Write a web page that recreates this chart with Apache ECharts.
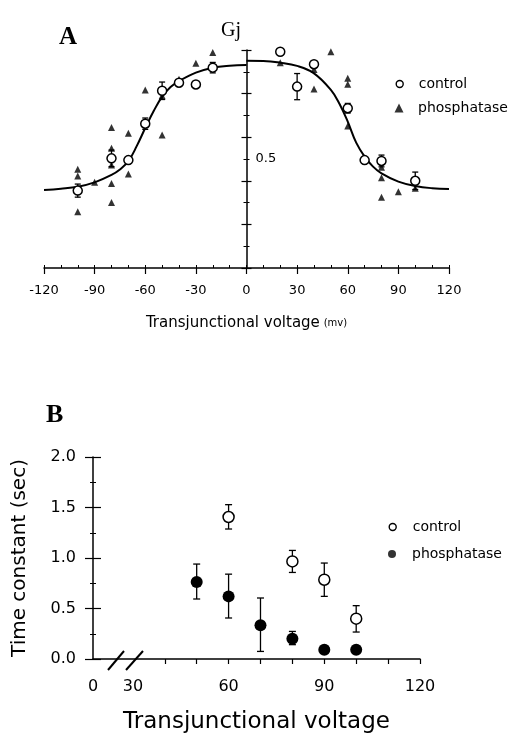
<!DOCTYPE html>
<html>
<head>
<meta charset="utf-8">
<script src="https://cdn.jsdelivr.net/npm/echarts@6/dist/echarts.min.js"></script>
<style>
  html, body { margin: 0; padding: 0; background: #fff; }
  #chart { width: 515px; height: 738px; }
</style>
</head>
<body>
<div id="chart"></div>
<script>
// ---- panel A : Gj vs transjunctional voltage ----
const ctrlVA = [-100, -80, -70, -60, -50, -40, -30, -20, 20, 30, 40, 60, 70, 80, 100]
const ctrlGA = [0.355, 0.503, 0.495, 0.662, 0.813, 0.85, 0.842, 0.919, 0.992, 0.832, 0.935, 0.733, 0.495, 0.491, 0.40]
const ctrlErrA = [0.03, 0.038, 0, 0.026, 0.04, 0.012, 0, 0.024, 0, 0.06, 0.01, 0.022, 0, 0.027, 0.04]

const phosVA = [-100, -100, -100, -90, -80, -80, -80, -80, -80, -70, -70, -60, -60, -50, -50, -40, -30, -20,
  20, 40, 40, 40, 50, 60, 60, 60, 70, 80, 80, 80, 90, 100]
const phosGA = [0.453, 0.422, 0.258, 0.393, 0.645, 0.549, 0.472, 0.388, 0.30, 0.618, 0.431, 0.817, 0.66, 0.61, 0.79, 0.866, 0.939, 0.988,
  0.942, 0.935, 0.91, 0.821, 0.992, 0.870, 0.843, 0.651, 0.495, 0.462, 0.414, 0.324, 0.35, 0.366]

// fitted curves
const curveLV = [-120, -110, -100, -90, -80, -75, -70, -65, -60, -55, -50, -45, -40, -30, -20, -10, 0]
const curveLG = [0.358, 0.364, 0.373, 0.393, 0.427, 0.452, 0.49, 0.56, 0.642, 0.72, 0.786, 0.83, 0.857, 0.896, 0.919, 0.928, 0.931]
const curveRV = [0, 10, 20, 30, 40, 50, 55, 60, 65, 70, 75, 80, 90, 100, 110, 120]
const curveRG = [0.951, 0.95, 0.942, 0.927, 0.893, 0.817, 0.755, 0.671, 0.575, 0.511, 0.465, 0.434, 0.396, 0.376, 0.366, 0.362]

const xTicksA = [-120, -90, -60, -30, 0, 30, 60, 90, 120]
const xTickLabelsA = ['-120', '-90', '-60', '-30', '0', '30', '60', '90', '120']
const yLabelValuesA = [0.5]

// ---- panel B : time constant ----
const ctrlVB = [60, 80, 90, 100]
const ctrlTB = [1.406, 0.966, 0.785, 0.399]
const ctrlLoB = [1.287, 0.857, 0.62, 0.267]
const ctrlHiB = [1.528, 1.075, 0.95, 0.528]

const phosVB = [50, 60, 70, 80, 90, 100]
const phosTB = [0.762, 0.62, 0.333, 0.201, 0.092, 0.092]
const phosLoB = [0.594, 0.406, 0.075, 0.142, null, null]
const phosHiB = [0.94, 0.84, 0.604, 0.273, null, null]

// broken axis: the left end of the axis stands for 0
const xTicksB = [17.5, 30, 60, 90, 120]
const xTickLabelsB = ['0', '30', '60', '90', '120']
const xMinorTicksB = [40, 50, 60, 70, 80, 90, 100, 110, 120]

const font = 'DejaVu Sans'
const yOffsetA = -202.5 // puts the Gj axis on V = 0

function errBar(capW, lw) {
  return function (params, api) {
    const x = api.value(0)
    const lo = api.coord([x, api.value(1)])
    const hi = api.coord([x, api.value(2)])
    const st = { stroke: '#000', lineWidth: lw }
    return {
      type: 'group',
      children: [
        { type: 'line', shape: { x1: lo[0], y1: lo[1], x2: hi[0], y2: hi[1] }, style: st },
        { type: 'line', shape: { x1: lo[0] - capW, y1: lo[1], x2: lo[0] + capW, y2: lo[1] }, style: st },
        { type: 'line', shape: { x1: hi[0] - capW, y1: hi[1], x2: hi[0] + capW, y2: hi[1] }, style: st }
      ]
    }
  }
}

const errA = []
ctrlVA.forEach((v, i) => {
  if (ctrlErrA[i] > 0) errA.push([v, ctrlGA[i] - ctrlErrA[i], ctrlGA[i] + ctrlErrA[i]])
})
const errCtrlB = ctrlVB.map((v, i) => [v, ctrlLoB[i], ctrlHiB[i]])
const errPhosB = []
phosVB.forEach((v, i) => {
  if (phosLoB[i] != null) errPhosB.push([v, phosLoB[i], phosHiB[i]])
})

const zip = (a, b) => a.map((v, i) => [v, b[i]])

function legendItem(left, top, size, pad, item) {
  return {
    left: left, top: top, itemWidth: size, itemHeight: size, selectedMode: false, padding: 0,
    textStyle: { fontFamily: font, fontSize: 14, color: '#000', lineHeight: 16, padding: [0, 0, 0, pad] },
    data: [item]
  }
}

const openItem = name => ({ name: name, icon: 'circle', itemStyle: { color: '#fff', borderColor: '#000', borderWidth: 1.4 } })

const chart = echarts.init(document.getElementById('chart'))

chart.setOption({
  animation: false,
  backgroundColor: '#fff',
  textStyle: { fontFamily: font, color: '#000' },
  title: [
    { text: 'A', left: 59, top: 25, padding: 0, textStyle: { fontFamily: 'Liberation Serif', fontWeight: 'bold', fontSize: 25, color: '#000' } },
    { text: 'Gj', left: 221, top: 21, padding: 0, textStyle: { fontFamily: 'Liberation Serif', fontWeight: 'normal', fontSize: 20, color: '#000' } },
    { text: 'B', left: 46, top: 402, padding: 0, textStyle: { fontFamily: 'Liberation Serif', fontWeight: 'bold', fontSize: 26, color: '#000' } }
  ],
  legend: [
    legendItem(395.5, 76, 7, 10.5, openItem('control')),
    legendItem(394.5, 100, 9, 9.5, { name: 'phosphatase', icon: 'triangle', itemStyle: { color: '#000', borderWidth: 0 } }),
    legendItem(388.5, 519, 7, 11.5, openItem('control')),
    legendItem(388, 546, 8, 11, { name: 'phosphatase', icon: 'circle', itemStyle: { color: '#000', borderWidth: 0 } })
  ],
  grid: [
    { left: 44, top: 50, width: 405, height: 218 },
    { left: 93, top: 457, width: 327, height: 202 }
  ],
  xAxis: [
    {
      gridIndex: 0, type: 'value', min: -120, max: 120, interval: 30,
      name: '{a|Transjunctional voltage} {b|(mv)}', nameLocation: 'middle', nameGap: 48,
      nameTextStyle: { rich: { a: { fontFamily: font, fontSize: 15, color: '#000' }, b: { fontFamily: font, fontSize: 10, color: '#000' } } },
      axisLine: { onZero: false, lineStyle: { color: '#000', width: 1.5 } },
      axisTick: { length: 6, lineStyle: { color: '#000', width: 1.2 }, customValues: xTicksA },
      axisLabel: {
        color: '#000', fontSize: 13, margin: 16, customValues: xTicksA,
        formatter: v => xTickLabelsA[xTicksA.indexOf(v)]
      },
      splitLine: { show: false }
    },
    {
      gridIndex: 0, type: 'value', min: -120, max: 120, interval: 10, position: 'bottom',
      axisLine: { show: false, onZero: false },
      axisTick: { inside: true, length: 3, lineStyle: { color: '#000', width: 1 } },
      axisLabel: { show: false },
      splitLine: { show: false }
    },
    {
      gridIndex: 1, type: 'value', min: 17.5, max: 120,
      name: 'Transjunctional voltage', nameLocation: 'middle', nameGap: 52,
      nameTextStyle: { fontFamily: font, fontSize: 23, color: '#000' },
      axisLine: { onZero: false, lineStyle: { color: '#000', width: 1.5 } },
      axisTick: { length: 5, lineStyle: { color: '#000', width: 1.2 }, customValues: xMinorTicksB },
      axisLabel: {
        color: '#000', fontSize: 16, margin: 20, customValues: xTicksB,
        formatter: v => xTickLabelsB[xTicksB.indexOf(v)]
      },
      splitLine: { show: false }
    }
  ],
  yAxis: [
    {
      gridIndex: 0, type: 'value', min: 0, max: 1, interval: 0.2, position: 'right', offset: yOffsetA,
      axisLine: { show: true, onZero: false, lineStyle: { color: '#000', width: 1.5 } },
      axisTick: { show: true, length: 5, lineStyle: { color: '#000', width: 1.2 } },
      minorTick: { show: true, splitNumber: 2, length: 3, lineStyle: { color: '#000', width: 1 } },
      axisLabel: { color: '#000', fontSize: 13, margin: 9, customValues: yLabelValuesA },
      splitLine: { show: false }
    },
    {
      gridIndex: 0, type: 'value', min: 0, max: 1, interval: 0.2, position: 'right', offset: yOffsetA,
      axisLine: { show: false, onZero: false },
      axisTick: { show: true, inside: true, length: 5, lineStyle: { color: '#000', width: 1.2 } },
      minorTick: { show: true, splitNumber: 2, length: 3, lineStyle: { color: '#000', width: 1 } },
      axisLabel: { show: false },
      splitLine: { show: false }
    },
    {
      gridIndex: 1, type: 'value', min: 0, max: 2, interval: 0.5, position: 'left',
      name: 'Time constant (sec)', nameLocation: 'middle', nameGap: 63, nameRotate: 90,
      nameTextStyle: { fontFamily: font, fontSize: 20, color: '#000' },
      axisLine: { show: true, onZero: false, lineStyle: { color: '#000', width: 1.5 } },
      axisTick: { show: true, length: 8, lineStyle: { color: '#000', width: 1.2 } },
      minorTick: { show: true, splitNumber: 2, length: 3, lineStyle: { color: '#000', width: 1 } },
      axisLabel: { color: '#000', fontSize: 16, margin: 17, formatter: v => v.toFixed(1) },
      splitLine: { show: false }
    },
    {
      gridIndex: 1, type: 'value', min: 0, max: 2, interval: 0.5, position: 'left',
      axisLine: { show: false, onZero: false },
      axisTick: { show: true, inside: true, length: 8, lineStyle: { color: '#000', width: 1.2 } },
      minorTick: { show: true, splitNumber: 2, length: 3, lineStyle: { color: '#000', width: 1 } },
      axisLabel: { show: false },
      splitLine: { show: false }
    }
  ],
  graphic: [
    { type: 'line', shape: { x1: 108, y1: 670, x2: 124, y2: 651 }, style: { stroke: '#000', lineWidth: 2 } },
    { type: 'line', shape: { x1: 126, y1: 670, x2: 143, y2: 651 }, style: { stroke: '#000', lineWidth: 2 } }
  ],
  series: [
    {
      name: 'fitL', type: 'line', xAxisIndex: 0, yAxisIndex: 0, data: zip(curveLV, curveLG),
      smooth: 0.4, showSymbol: false, symbol: 'none', lineStyle: { color: '#000', width: 2 }, z: 2
    },
    {
      name: 'fitR', type: 'line', xAxisIndex: 0, yAxisIndex: 0, data: zip(curveRV, curveRG),
      smooth: 0.4, showSymbol: false, symbol: 'none', lineStyle: { color: '#000', width: 2 }, z: 2
    },
    {
      type: 'custom', xAxisIndex: 0, yAxisIndex: 0, data: errA, renderItem: errBar(3, 1.3), z: 3
    },
    {
      name: 'phosphatase', type: 'scatter', xAxisIndex: 0, yAxisIndex: 0, data: zip(phosVA, phosGA),
      symbol: 'triangle', symbolSize: 7, itemStyle: { color: '#000' }, z: 4
    },
    {
      name: 'control', type: 'scatter', xAxisIndex: 0, yAxisIndex: 0, data: zip(ctrlVA, ctrlGA),
      symbol: 'circle', symbolSize: 9, itemStyle: { color: '#fff', borderColor: '#000', borderWidth: 1.5, opacity: 1 }, z: 5
    },
    {
      type: 'custom', xAxisIndex: 2, yAxisIndex: 2, data: errCtrlB, renderItem: errBar(3.5, 1.3), z: 3
    },
    {
      type: 'custom', xAxisIndex: 2, yAxisIndex: 2, data: errPhosB, renderItem: errBar(3.5, 1.3), z: 3
    },
    {
      name: 'control', type: 'scatter', xAxisIndex: 2, yAxisIndex: 2, data: zip(ctrlVB, ctrlTB),
      symbol: 'circle', symbolSize: 11, itemStyle: { color: '#fff', borderColor: '#000', borderWidth: 1.5, opacity: 1 }, z: 5
    },
    {
      name: 'phosphatase', type: 'scatter', xAxisIndex: 2, yAxisIndex: 2, data: zip(phosVB, phosTB),
      symbol: 'circle', symbolSize: 12, itemStyle: { color: '#000', opacity: 1 }, z: 5
    }
  ]
})
</script>
</body>
</html>
